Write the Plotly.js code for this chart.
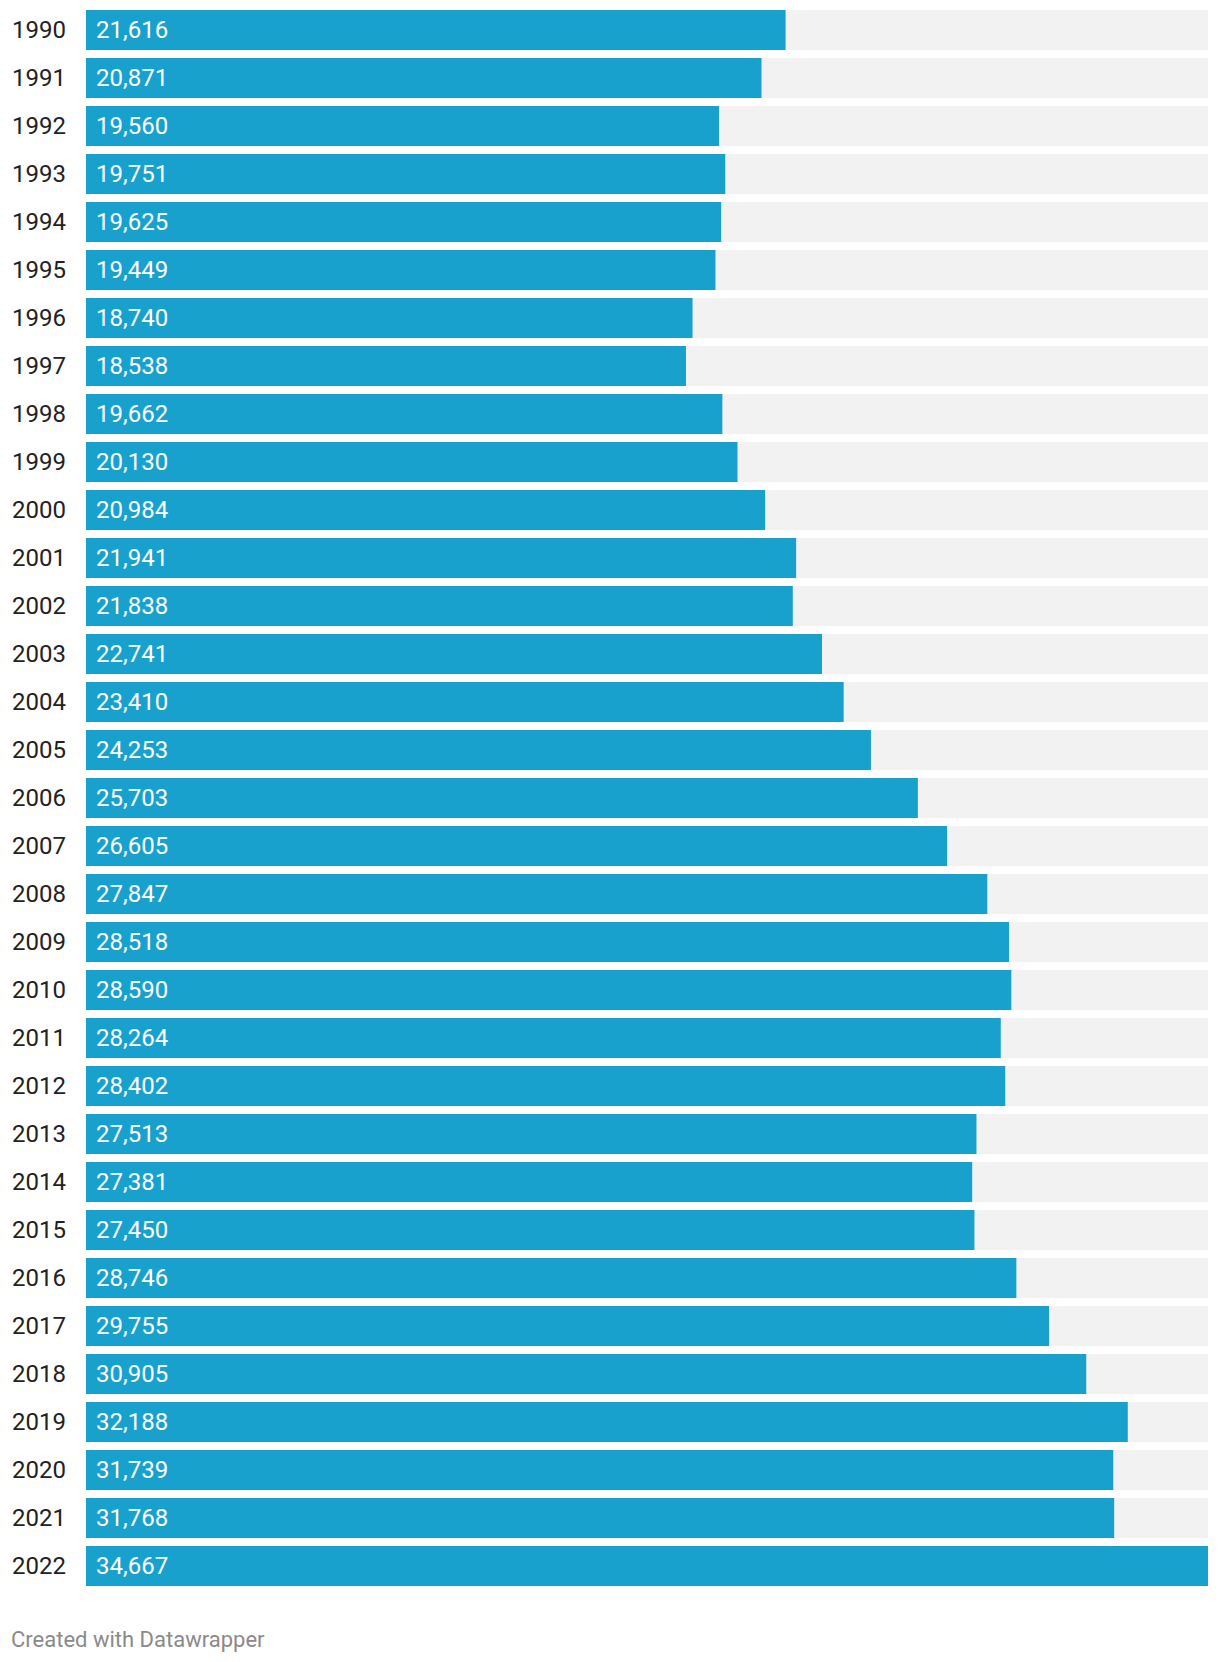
<!DOCTYPE html>
<html>
<head>
<meta charset="utf-8">
<script src="https://cdn.plot.ly/plotly-3.0.1.min.js"></script>
<style>
html,body{margin:0;padding:0;background:#fff;}
#chart{width:1220px;height:1662px;}
</style>
</head>
<body>
<div id="chart"></div>
<script>
const years = ["1990","1991","1992","1993","1994","1995","1996","1997","1998","1999",
  "2000","2001","2002","2003","2004","2005","2006","2007","2008","2009",
  "2010","2011","2012","2013","2014","2015","2016","2017","2018","2019",
  "2020","2021","2022"];
const values = [21616,20871,19560,19751,19625,19449,18740,18538,19662,20130,
  20984,21941,21838,22741,23410,24253,25703,26605,27847,28518,
  28590,28264,28402,27513,27381,27450,28746,29755,30905,32188,
  31739,31768,34667];
const footerText = "Created with Datawrapper";

const maxVal = Math.max(...values);
const idx = years.map((_, i) => i);
const fmt = v => v.toLocaleString('en-US');

const bgTrace = {
  type: 'bar', orientation: 'h',
  y: idx, x: years.map(() => maxVal),
  marker: {color: '#f2f2f2'},
  width: 40/48,
  hoverinfo: 'skip', showlegend: false
};
const mainTrace = {
  type: 'bar', orientation: 'h',
  y: idx, x: values,
  marker: {color: '#18a1cd'},
  width: 40/48,
  showlegend: false
};

const annotations = years.map((yr, i) => ({
  x: 0, y: i, xref: 'x', yref: 'y',
  text: fmt(values[i]),
  showarrow: false, xanchor: 'left', yanchor: 'middle',
  xshift: 8,
  font: {family: 'Roboto', size: 24, color: '#ffffff'}
}));
annotations.push({
  x: 0, y: 0, xref: 'paper', yref: 'paper',
  text: footerText, showarrow: false,
  xanchor: 'left', yanchor: 'middle',
  xshift: -77, yshift: -49,
  font: {family: 'Roboto', size: 22, color: '#8a8a8a'}
});

const layout = {
  width: 1220, height: 1662,
  margin: {l: 86, r: 12, t: 6, b: 72, pad: 0},
  paper_bgcolor: '#ffffff', plot_bgcolor: '#ffffff',
  barmode: 'overlay',
  font: {family: 'Roboto', size: 24, color: '#222222'},
  xaxis: {range: [0, maxVal], showgrid: false, zeroline: false,
          showticklabels: false, fixedrange: true},
  yaxis: {type: 'linear', range: [years.length - 0.5, -0.5],
          tickmode: 'array', tickvals: idx, ticktext: years,
          showgrid: false, zeroline: false,
          ticks: '', ticklabelstandoff: 19,
          tickfont: {family: 'Roboto', size: 24, color: '#222222'}},
  annotations: annotations,
  hovermode: false
};

Plotly.newPlot('chart', [bgTrace, mainTrace], layout, {displayModeBar: false, staticPlot: true});
</script>
</body>
</html>
